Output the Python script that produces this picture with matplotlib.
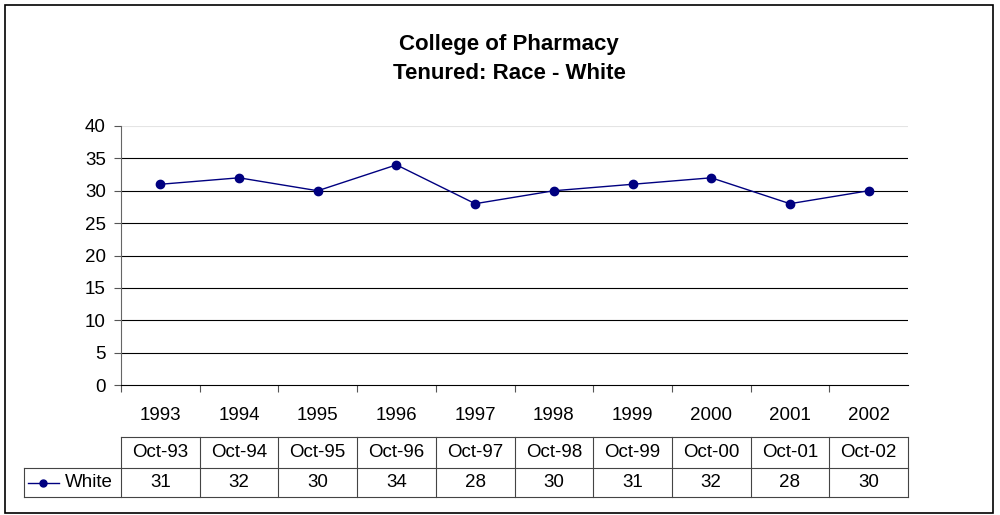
import matplotlib.pyplot as plt
import matplotlib.transforms as mtransforms
import numpy as np

plt.rcParams['font.family'] = ['Liberation Sans', 'DejaVu Sans']

# data
years = ["1993", "1994", "1995", "1996", "1997", "1998", "1999", "2000", "2001", "2002"]
dates = ["Oct-93", "Oct-94", "Oct-95", "Oct-96", "Oct-97", "Oct-98", "Oct-99", "Oct-00", "Oct-01", "Oct-02"]
white = [31, 32, 30, 34, 28, 30, 31, 32, 28, 30]
series_name = "White"

navy = '#000080'
fs = 13.5

fig = plt.figure(figsize=(10, 5.15), dpi=100)
# outer chart border
fig.patches.append(plt.Rectangle((0.005, 0.004), 0.988, 0.987, transform=fig.transFigure,
                                 fill=False, edgecolor='black', linewidth=1.2))

ax = fig.add_axes([0.121, 1 - 385/515, 0.787, 259/515])
ind = np.arange(len(years))

# grid lines
for v in range(5, 40, 5):
    ax.axhline(v, color='black', linewidth=0.8, zorder=1)
ax.axhline(40, color='#e4e4e4', linewidth=0.8, zorder=1)

ax.plot(ind, white, color=navy, linewidth=1.0, marker='o', markersize=6, zorder=3)

ax.set_ylim(0, 40)
ax.set_xlim(-0.5, len(years) - 0.5)
ax.set_yticks(range(0, 41, 5))
ax.tick_params(axis='y', labelsize=fs, length=5, width=0.8, pad=6, color='#555555')

ax.set_xticks(ind - 0.5)
ax.set_xticklabels([])
ax.set_xticks(ind, minor=True)
ax.set_xticklabels(years, minor=True)
ax.tick_params(axis='x', which='major', length=5, width=0.8, direction='out', color='#555555')
ax.tick_params(axis='x', which='minor', length=0, pad=15.5, labelsize=fs)

for s in ['top', 'right']:
    ax.spines[s].set_visible(False)
ax.spines['left'].set_color('#666666')
ax.spines['left'].set_linewidth(0.8)
ax.spines['bottom'].set_color('black')
ax.spines['bottom'].set_linewidth(0.8)

fig.text(0.509, 1 - 59/515, "College of Pharmacy\nTenured: Race - White", fontsize=16,
         fontweight='bold', ha='center', va='center', linespacing=1.55)

# data table below the chart
tr = mtransforms.blended_transform_factory(ax.transData, ax.transAxes)
ax_h = 259.0
y_top = (385 - 437) / ax_h
y_mid = (385 - 468) / ax_h
y_bot = (385 - 497) / ax_h
x_lab = -0.5 + (24 - 121) / 78.7
x_right = len(years) - 0.5
lc = '#444444'
lw = 0.8

ax.plot([-0.5, x_right], [y_top, y_top], color=lc, lw=lw, transform=tr, clip_on=False)
ax.plot([x_lab, x_right], [y_mid, y_mid], color=lc, lw=lw, transform=tr, clip_on=False)
ax.plot([x_lab, x_right], [y_bot, y_bot], color=lc, lw=lw, transform=tr, clip_on=False)
ax.plot([x_lab, x_lab], [y_mid, y_bot], color=lc, lw=lw, transform=tr, clip_on=False)
for i in range(len(years) + 1):
    ax.plot([i - 0.5, i - 0.5], [y_top, y_bot], color=lc, lw=lw, transform=tr, clip_on=False)

for i in range(len(years)):
    ax.text(i, (y_top + y_mid) / 2, dates[i], transform=tr, ha='center', va='center', fontsize=fs)
    ax.text(i, (y_mid + y_bot) / 2, str(white[i]), transform=tr, ha='center', va='center', fontsize=fs)

# legend key in row header
yc = (y_mid + y_bot) / 2
ax.plot([x_lab + 0.05, x_lab + 0.44], [yc, yc], color=navy, lw=1.0,
        transform=tr, clip_on=False)
ax.plot([x_lab + 0.245], [yc], color=navy, marker='o', markersize=5, transform=tr, clip_on=False)
ax.text(-0.6, yc, series_name, transform=tr, ha='right', va='center', fontsize=fs)

plt.savefig('out.png', dpi=100)
